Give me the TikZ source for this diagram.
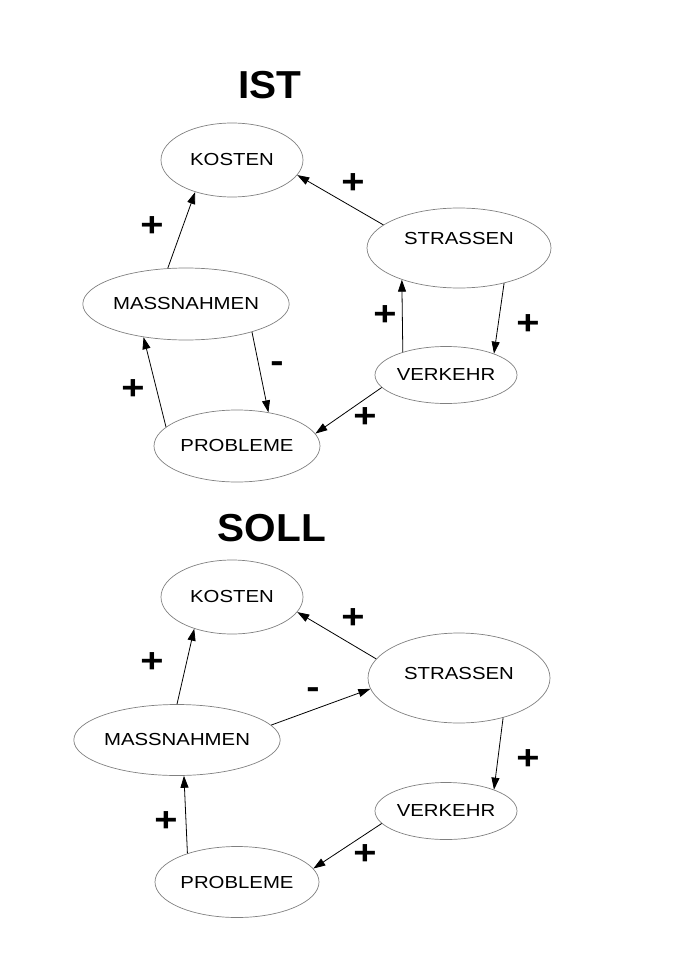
\documentclass[tikz,border=0pt]{standalone}
\usepackage{fontspec}
\setmainfont{Liberation Sans}[FakeStretch=1.17]
\newfontfamily\titlefont{Liberation Sans}[FakeStretch=1.04]
\usepackage{tikz}
\usetikzlibrary{arrows.meta}
\usetikzlibrary{shapes.geometric}
\tikzset{oval/.style = {draw = lgray, line width = 0.7pt, ellipse, inner sep = 0, font = \fontsize{17.4}{20}\selectfont}}
\tikzset{sign/.style = {inner sep = 0, font = \bfseries\fontsize{34}{34}\selectfont}}
\tikzset{heading/.style = {inner sep = 0, font = \titlefont\bfseries\fontsize{39}{39}\selectfont}}
\tikzset{arr/.style = {-{Triangle[length = 12pt, width = 8pt]}, line width = 0.8pt}}
\definecolor{lgray}{rgb}{0.5, 0.5, 0.5}

\begin{document}
\begin{tikzpicture}[x = 1pt, y = -1pt]
        \useasboundingbox (0, 0) rectangle (678, 960);
        % IST
        \node [heading] (ist) at (270, 85) {IST};
        \node [oval, minimum width = 142, minimum height = 74] (k1) at (232, 160) {KOSTEN};
        \node [oval, minimum width = 184, minimum height = 80, text depth = 20pt] (s1) at (459, 248) {STRASSEN};
        \node [oval, minimum width = 204, minimum height = 72] (m1) at (186, 304) {MASSNAHMEN};
        \node [oval, minimum width = 142, minimum height = 57] (v1) at (446, 375) {VERKEHR};
        \node [oval, minimum width = 166, minimum height = 72] (p1) at (237, 446) {PROBLEME};
        \draw [arr] (m1.117) -- (k1.221);
        \draw [arr] (s1.163) -- (k1.347);
        \draw [arr] (v1.152) -- (s1.209);
        \draw [arr] (s1.322) -- (v1.24);
        \draw [arr] (v1.191) -- (p1.9.5);
        \draw [arr] (m1.337) -- (p1.47);
        \draw [arr] (p1.165) -- (m1.218);
        \node [sign] (ks1) at (353, 184) {+};
        \node [sign] (mk1) at (152, 227) {+};
        \node [sign] (vs1) at (385, 316) {+};
        \node [sign] (sv1) at (528, 325) {+};
        \node [sign] (mp1) at (277, 367) {-};
        \node [sign] (pm1) at (133, 390) {+};
        \node [sign] (vp1) at (365, 418) {+};
        % SOLL
        \node [heading] (soll) at (272, 528) {SOLL};
        \node [oval, minimum width = 142, minimum height = 74] (k2) at (232, 597) {KOSTEN};
        \node [oval, minimum width = 182, minimum height = 90, text depth = 10pt] (s2) at (459, 678) {STRASSEN};
        \node [oval, minimum width = 204, minimum height = 71] (m2) at (177, 740) {MASSNAHMEN};
        \node [oval, minimum width = 142, minimum height = 57] (v2) at (446, 811) {VERKEHR};
        \node [oval, minimum width = 164, minimum height = 71] (p2) at (237, 882) {PROBLEME};
        \draw [arr] (m2.90) -- (k2.220);
        \draw [arr] (s2.167) -- (k2.347);
        \draw [arr] (m2.9) -- (s2.187);
        \draw [arr] (s2.318) -- (v2.24);
        \draw [arr] (v2.191) -- (p2.10);
        \draw [arr] (p2.150) -- (m2.281);
        \node [sign] (ks2) at (353, 619) {+};
        \node [sign] (mk2) at (152, 663) {+};
        \node [sign] (ms2) at (313, 693) {-};
        \node [sign] (sv2) at (528, 760) {+};
        \node [sign] (pm2) at (166, 822) {+};
        \node [sign] (vp2) at (365, 855) {+};
      \end{tikzpicture}
\end{document}
